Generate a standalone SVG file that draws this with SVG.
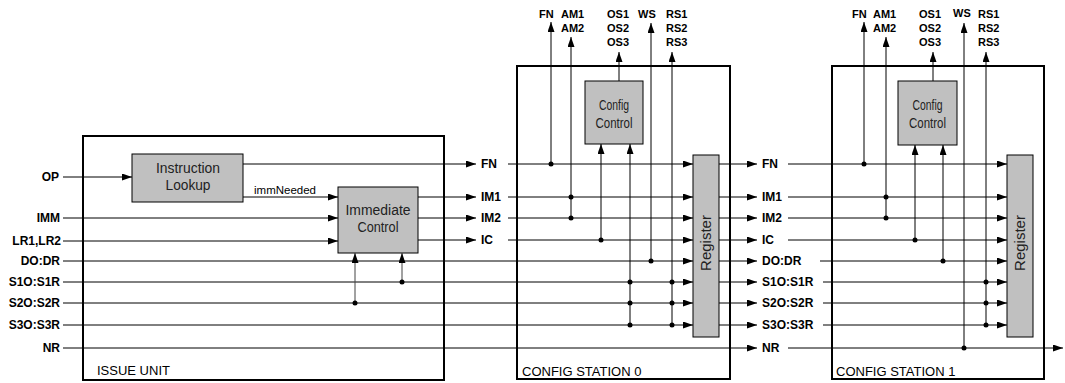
<svg xmlns="http://www.w3.org/2000/svg" width="1065" height="383" viewBox="0 0 1065 383">
<style>
.frame{fill:none;stroke:#000;stroke-width:2}
.blk{fill:#c0c0c0;stroke:#000;stroke-width:1}
.w{fill:none;stroke:#000;stroke-width:1}
.g{fill:none;stroke:#444;stroke-width:1}
.a{marker-end:url(#arr)}
.dot{fill:#000}
.lbl{font-family:"Liberation Sans",Arial,sans-serif;font-weight:bold;font-size:12px;fill:#000}
.top{font-family:"Liberation Sans",Arial,sans-serif;font-weight:bold;font-size:11px;fill:#000}
.bt{font-family:"Liberation Sans",Arial,sans-serif;font-size:14px;fill:#222;text-anchor:middle}
.title{font-family:"Liberation Sans",Arial,sans-serif;font-size:13px;fill:#000}
.sm{font-family:"Liberation Sans",Arial,sans-serif;font-size:10.5px;fill:#000}
</style>
<defs>
<marker id="arr" viewBox="0 0 10 7" refX="10" refY="3.5" markerWidth="10" markerHeight="7" markerUnits="userSpaceOnUse" orient="auto">
<path d="M0,0 L10,3.5 L0,7 z" fill="#000"/>
</marker>
</defs>
<rect width="1065" height="383" fill="#fff"/>

<g id="issue-unit">
<rect class="frame" x="83" y="136" width="361" height="244"/>
<text class="title" x="97" y="375">ISSUE UNIT</text>
</g>
<g id="instruction-lookup">
<rect class="blk" x="132" y="154" width="111" height="48"/>
<text class="bt" x="188" y="173" textLength="64" lengthAdjust="spacingAndGlyphs">Instruction</text>
<text class="bt" x="188" y="190" textLength="45" lengthAdjust="spacingAndGlyphs">Lookup</text>
</g>
<g id="immediate-control">
<rect class="blk" x="338" y="187" width="80" height="66"/>
<text class="bt" x="378" y="215" textLength="65" lengthAdjust="spacingAndGlyphs">Immediate</text>
<text class="bt" x="378" y="232" textLength="41" lengthAdjust="spacingAndGlyphs">Control</text>
</g>

<g id="config-station-0">
<rect class="frame" x="517" y="66" width="213" height="313"/>
<text class="title" x="522" y="376">CONFIG STATION 0</text>
</g>
<g id="config-control-0">
<rect class="blk" x="585" y="81" width="58" height="63"/>
<text class="bt" x="614" y="110" textLength="30" lengthAdjust="spacingAndGlyphs">Config</text>
<text class="bt" x="614" y="128" textLength="37" lengthAdjust="spacingAndGlyphs">Control</text>
</g>
<g id="register-0">
<rect class="blk" x="693" y="155" width="26" height="182"/>
<text class="bt" transform="translate(711,243) rotate(-90)" style="font-size:15px" x="0" y="0">Register</text>
</g>

<g id="config-station-1">
<rect class="frame" x="832" y="66" width="212" height="313"/>
<text class="title" x="836" y="376">CONFIG STATION 1</text>
</g>
<g id="config-control-1">
<rect class="blk" x="898" y="81" width="59" height="64"/>
<text class="bt" x="927.5" y="110" textLength="30" lengthAdjust="spacingAndGlyphs">Config</text>
<text class="bt" x="927.5" y="128" textLength="37" lengthAdjust="spacingAndGlyphs">Control</text>
</g>
<g id="register-1">
<rect class="blk" x="1007" y="155" width="26" height="182"/>
<text class="bt" transform="translate(1025,243) rotate(-90)" style="font-size:15px" x="0" y="0">Register</text>
</g>

<g id="connectors">
<path class="w a" d="M63,177 H132"/>
<path class="w a" d="M243,164 H476"/>
<path class="w a" d="M243,197 H338"/>
<path class="w a" d="M63,218 H338"/>
<path class="w a" d="M63,241 H338"/>
<path class="w a" d="M418,197 H476"/>
<path class="w a" d="M418,218 H476"/>
<path class="w a" d="M418,240 H476"/>
<path class="w a" d="M63,261 H693"/>
<path class="w a" d="M63,282 H693"/>
<path class="w a" d="M63,303 H693"/>
<path class="w a" d="M63,325 H693"/>
<path class="w a" d="M63,348 H757"/>
<path class="g a" d="M355,303 V253"/>
<path class="g a" d="M402,282 V253"/>
<circle class="dot" cx="355" cy="303" r="2.5"/>
<circle class="dot" cx="402" cy="282" r="2.5"/>
<path class="w a" d="M508,164 H693"/>
<path class="w a" d="M508,197 H693"/>
<path class="w a" d="M508,218 H693"/>
<path class="w a" d="M508,240 H693"/>
<path class="w a" d="M551,164 V22"/>
<path class="w a" d="M571,218 V37"/>
<path class="w a" d="M601,240 V144"/>
<path class="w a" d="M630,325 V144"/>
<path class="w a" d="M619,81 V52"/>
<path class="w a" d="M651,261 V23"/>
<path class="w a" d="M672,325 V52"/>
<circle class="dot" cx="551" cy="164" r="2.5"/>
<circle class="dot" cx="571" cy="197" r="2.5"/>
<circle class="dot" cx="571" cy="218" r="2.5"/>
<circle class="dot" cx="601" cy="240" r="2.5"/>
<circle class="dot" cx="630" cy="282" r="2.5"/>
<circle class="dot" cx="630" cy="303" r="2.5"/>
<circle class="dot" cx="630" cy="325" r="2.5"/>
<circle class="dot" cx="651" cy="261" r="2.5"/>
<circle class="dot" cx="672" cy="282" r="2.5"/>
<circle class="dot" cx="672" cy="303" r="2.5"/>
<circle class="dot" cx="672" cy="325" r="2.5"/>
<path class="w a" d="M719,164 H757"/>
<path class="w a" d="M719,197 H757"/>
<path class="w a" d="M719,218 H757"/>
<path class="w a" d="M719,240 H757"/>
<path class="w a" d="M719,261 H757"/>
<path class="w a" d="M719,282 H757"/>
<path class="w a" d="M719,303 H757"/>
<path class="w a" d="M719,325 H757"/>
<path class="w a" d="M788,164 H1007"/>
<path class="w a" d="M788,197 H1007"/>
<path class="w a" d="M788,218 H1007"/>
<path class="w a" d="M788,240 H1007"/>
<path class="w a" d="M820,261 H1007"/>
<path class="w a" d="M823,282 H1007"/>
<path class="w a" d="M823,303 H1007"/>
<path class="w a" d="M823,325 H1007"/>
<path class="w a" d="M788,348 H1063"/>
<path class="w a" d="M864,164 V22"/>
<path class="w a" d="M886,218 V37"/>
<path class="w a" d="M915,240 V145"/>
<path class="w a" d="M943,261 V145"/>
<path class="w a" d="M933,81 V52"/>
<path class="w a" d="M964,348 V23"/>
<path class="w a" d="M986,325 V52"/>
<circle class="dot" cx="864" cy="164" r="2.5"/>
<circle class="dot" cx="886" cy="197" r="2.5"/>
<circle class="dot" cx="886" cy="218" r="2.5"/>
<circle class="dot" cx="915" cy="240" r="2.5"/>
<circle class="dot" cx="943" cy="261" r="2.5"/>
<circle class="dot" cx="964" cy="348" r="2.5"/>
<circle class="dot" cx="986" cy="282" r="2.5"/>
<circle class="dot" cx="986" cy="303" r="2.5"/>
<circle class="dot" cx="986" cy="325" r="2.5"/>
<text class="sm" x="254" y="194" textLength="62" lengthAdjust="spacingAndGlyphs">immNeeded</text>
</g>

<g id="labels">
<g class="lbl" text-anchor="end">
<text x="59" y="181">OP</text>
<text x="60" y="222">IMM</text>
<text x="61" y="245">LR1,LR2</text>
<text x="60" y="265">DO:DR</text>
<text x="60" y="286">S1O:S1R</text>
<text x="60" y="307">S2O:S2R</text>
<text x="60" y="329">S3O:S3R</text>
<text x="60" y="352">NR</text>
</g>
<g class="lbl">
<text x="481" y="168">FN</text>
<text x="481" y="201">IM1</text>
<text x="481" y="222">IM2</text>
<text x="481" y="244">IC</text>
<text x="762" y="168">FN</text>
<text x="762" y="201">IM1</text>
<text x="762" y="222">IM2</text>
<text x="762" y="244">IC</text>
<text x="762" y="265">DO:DR</text>
<text x="762" y="286">S1O:S1R</text>
<text x="762" y="307">S2O:S2R</text>
<text x="762" y="329">S3O:S3R</text>
<text x="762" y="352">NR</text>
</g>
<g class="top">
<text x="539" y="18">FN</text>
<text x="561" y="18">AM1</text>
<text x="561" y="32">AM2</text>
<text x="607" y="18">OS1</text>
<text x="607" y="32">OS2</text>
<text x="607" y="46">OS3</text>
<text x="638" y="18">WS</text>
<text x="666" y="18">RS1</text>
<text x="666" y="32">RS2</text>
<text x="666" y="46">RS3</text>
<text x="852" y="18">FN</text>
<text x="873" y="18">AM1</text>
<text x="873" y="32">AM2</text>
<text x="919" y="18">OS1</text>
<text x="919" y="32">OS2</text>
<text x="919" y="46">OS3</text>
<text x="953" y="17">WS</text>
<text x="978" y="18">RS1</text>
<text x="978" y="32">RS2</text>
<text x="978" y="46">RS3</text>
</g>
</g>
</svg>
